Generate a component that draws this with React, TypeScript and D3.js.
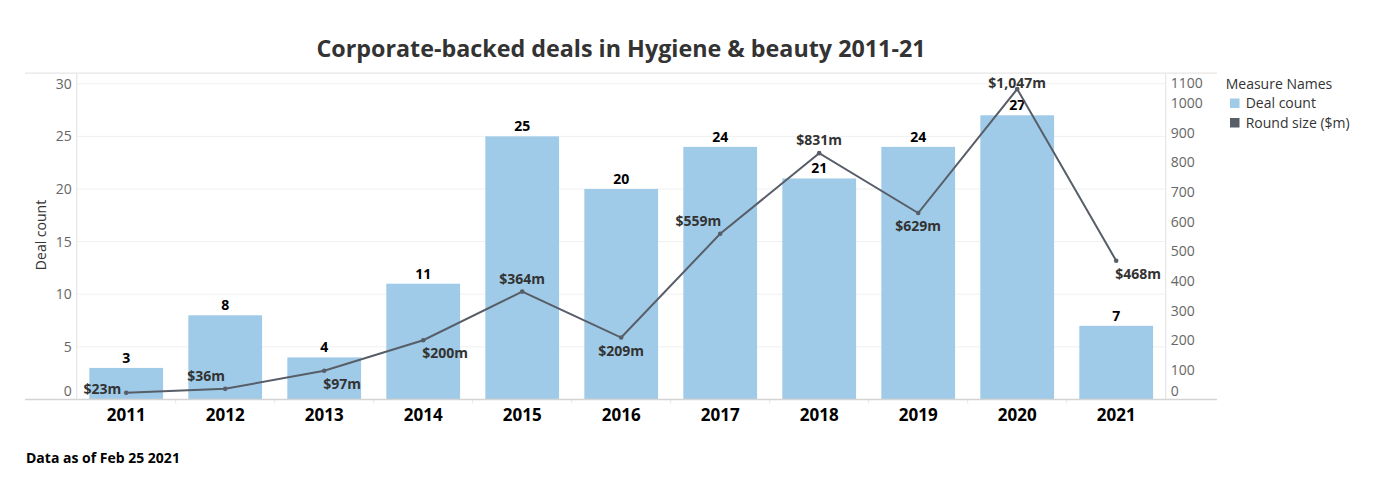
import React from "react";
import * as d3 from "d3";

const years = ["2011", "2012", "2013", "2014", "2015", "2016", "2017", "2018", "2019", "2020", "2021"];
const dealCount = [3, 8, 4, 11, 25, 20, 24, 21, 24, 27, 7];
const roundSize = [23, 36, 97, 200, 364, 209, 559, 831, 629, 1047, 468];
const roundLabels = ["$23m", "$36m", "$97m", "$200m", "$364m", "$209m", "$559m", "$831m", "$629m", "$1,047m", "$468m"];
const roundLabelPlacement = ["left", "aboveLeft", "belowRight", "belowRight", "above", "below", "aboveEnd", "above", "below", "onTop", "belowRight"];
const leftTicks = [0, 5, 10, 15, 20, 25, 30];
const rightTicks = [0, 100, 200, 300, 400, 500, 600, 700, 800, 900, 1000, 1100];
const legendItems = ["Deal count", "Round size ($m)"];

const W = 1378;
const H = 499;
const plotLeft = 76.7;
const plotRight = 1165.7;
const plotTop = 73.2;
const plotBottom = 399.5;
const frameLeft = 25;
const frameRight = 1217;

const barColor = "#a0cbe8";
const lineColor = "#575e68";
const FONT = "'Open Sans', 'Noto Sans', sans-serif";

export default function App() {
  const x = d3.scaleBand<string>().domain(years).range([plotLeft, plotRight]).paddingInner(0.255).paddingOuter(0.1275);
  const yL = d3.scaleLinear().domain([0, 31]).range([plotBottom, plotTop]);
  const yR = d3.scaleLinear().domain([0, 1100.6]).range([plotBottom, plotTop]);
  const cx = (y: string) => (x(y) as number) + x.bandwidth() / 2;
  const linePath = d3
    .line<number>()
    .x((_, i) => cx(years[i]))
    .y((v) => yR(v))(roundSize) as string;

  const placement = (p: string, px: number, py: number) => {
    switch (p) {
      case "left":
        return { x: px - 5, y: py + 1, anchor: "end" };
      case "aboveLeft":
        return { x: px - 19, y: py - 8, anchor: "middle" };
      case "belowRight":
        return { x: px - 1, y: py + 18, anchor: "start" };
      case "above":
        return { x: px, y: py - 8, anchor: "middle" };
      case "below":
        return { x: px, y: py + 18, anchor: "middle" };
      case "aboveEnd":
        return { x: px + 1, y: py - 8, anchor: "end" };
      case "onTop":
        return { x: px, y: py - 1, anchor: "middle" };
      default:
        return { x: px, y: py - 8, anchor: "middle" };
    }
  };

  const leftLabelY = (t: number) => {
    const y = yL(t);
    if (t === 0) return plotBottom - 4;
    return y + 5;
  };
  const rightLabelY = (t: number) => {
    const y = yR(t);
    if (t === 0) return plotBottom - 4;
    if (t === 1100) return plotTop + 15;
    return y + 5;
  };

  return (
    <svg width={W} height={H} style={{ position: "absolute", left: 0, top: 0, background: "#fff" }} fontFamily={FONT}>
      {/* Title */}
      <text x={621} y={57} textAnchor="middle" fontSize={23.3} fontWeight={700} fill="#333">
        Corporate-backed deals in Hygiene &amp; beauty 2011-21
      </text>

      {/* gridlines */}
      {leftTicks.slice(1).map((t) => (
        <line key={"g" + t} x1={plotLeft} x2={plotRight} y1={yL(t)} y2={yL(t)} stroke="#f0f0f0" strokeWidth={1} />
      ))}

      {/* frame */}
      <line x1={frameLeft} x2={frameRight} y1={plotTop} y2={plotTop} stroke="#e6e6e6" strokeWidth={1.2} />
      <line x1={plotLeft} x2={plotLeft} y1={plotTop} y2={plotBottom} stroke="#e6e6e6" strokeWidth={1.2} />
      <line x1={plotRight} x2={plotRight} y1={plotTop} y2={plotBottom} stroke="#e6e6e6" strokeWidth={1.2} />

      {/* bars */}
      {years.map((yr, i) => (
        <rect key={"b" + yr} x={x(yr)} y={yL(dealCount[i])} width={x.bandwidth()} height={plotBottom - yL(dealCount[i])} fill={barColor} />
      ))}

      {/* band separators below axis */}
      {years.slice(1).map((yr) => {
        const bx = (x(yr) as number) - (x.step() * x.paddingInner()) / 2;
        return <line key={"s" + yr} x1={bx} x2={bx} y1={plotBottom} y2={plotBottom + 4} stroke="#e8e8e8" strokeWidth={1} />;
      })}

      {/* bottom axis line */}
      <line x1={frameLeft} x2={frameRight} y1={plotBottom} y2={plotBottom} stroke="#d4d4d4" strokeWidth={1.5} />

      {/* bar labels */}
      {years.map((yr, i) => (
        <text key={"bl" + yr} x={cx(yr)} y={yL(dealCount[i]) - 5} textAnchor="middle" fontSize={14} fontWeight={700} fill="#000">
          {dealCount[i]}
        </text>
      ))}

      {/* line */}
      <path d={linePath} fill="none" stroke={lineColor} strokeWidth={2} />
      {years.map((yr, i) => (
        <circle key={"p" + yr} cx={cx(yr)} cy={yR(roundSize[i])} r={2.3} fill={lineColor} />
      ))}

      {/* line labels */}
      {years.map((yr, i) => {
        const p = placement(roundLabelPlacement[i], cx(yr), yR(roundSize[i]));
        return (
          <text key={"ll" + yr} x={p.x} y={p.y} textAnchor={p.anchor as any} fontSize={14} fontWeight={700} fill="#333">
            {roundLabels[i]}
          </text>
        );
      })}

      {/* x labels */}
      {years.map((yr) => (
        <text key={"x" + yr} x={cx(yr)} y={421} textAnchor="middle" fontSize={17} fontWeight={700} fill="#000">
          {yr}
        </text>
      ))}

      {/* left axis labels */}
      {leftTicks.map((t) => (
        <text key={"lt" + t} x={71.7} y={leftLabelY(t)} textAnchor="end" fontSize={14} fill="#666">
          {t}
        </text>
      ))}
      <text transform={`translate(46, 235) rotate(-90)`} textAnchor="middle" fontSize={14} fill="#333">
        Deal count
      </text>

      {/* right axis labels */}
      {rightTicks.map((t) => (
        <text key={"rt" + t} x={1170.7} y={rightLabelY(t)} textAnchor="start" fontSize={14} fill="#666">
          {t}
        </text>
      ))}

      {/* legend */}
      <text x={1225.7} y={89} fontSize={14} fill="#333">
        Measure Names
      </text>
      {legendItems.map((item, i) => (
        <g key={"lg" + item}>
          <rect x={1230} y={98.5 + i * 19.5} width={9.5} height={9.5} fill={i === 0 ? barColor : lineColor} />
          <text x={1245.7} y={108 + i * 19.5} fontSize={14} fill="#333">
            {item}
          </text>
        </g>
      ))}

      {/* footnote */}
      <text x={26} y={462.7} fontSize={14} fontWeight={700} fill="#000">
        Data as of Feb 25 2021
      </text>
    </svg>
  );
}
